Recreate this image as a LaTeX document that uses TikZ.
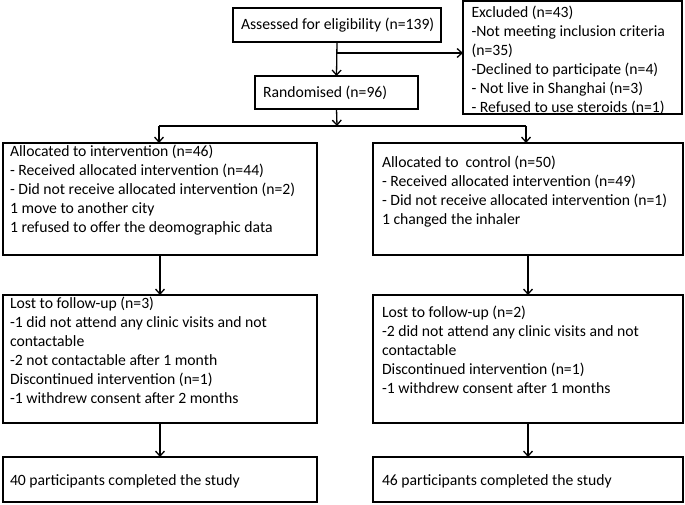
\documentclass[tikz,border=0pt]{standalone}
\usepackage{fontspec}
\setmainfont{Carlito}
\usetikzlibrary{arrows.meta}
\newcommand{\bxc}[5]{\parbox[c][#2pt][t]{#1pt}{\raggedright\rightskip=-40pt plus 1fil\leftskip=#4pt\relax\rule{0pt}{#3pt}#5}}
\tikzset{
  every node/.style={font=\fontsize{15.7}{19}\selectfont},
  box/.style={draw, line width=1.3pt, anchor=north west, inner sep=0pt, outer sep=0pt},
  ln/.style={line width=1.3pt},
  arr/.style={line width=1.3pt, -{Straight Barb[length=5pt,width=9pt]}}
}
\begin{document}
\begin{tikzpicture}[x=1pt,y=-1pt]
\useasboundingbox (0,0) rectangle (685,505);
\node[box] (assess) at (233,8) {\bxc{208}{34}{22}{8}{Assessed for eligibility (n=139)}};
\node[box] (excl) at (463,1) {\bxc{219}{113}{17}{8.5}{Excluded (n=43)\\-Not meeting inclusion criteria\\(n=35)\\-Declined to participate (n=4)\\- Not live in Shanghai (n=3)\\- Refused to use steroids (n=1)}};
\node[box] (rand) at (255,76) {\bxc{163}{33}{22}{8}{Randomised (n=96)}};
\node[box] (allocL) at (3,143) {\bxc{314}{112}{14}{7}{Allocated to intervention (n=46)\\- Received allocated intervention (n=44)\\- Did not receive allocated intervention (n=2)\\1 move to another city\\1 refused to offer the deomographic data}};
\node[box] (allocR) at (373,143) {\bxc{310}{112}{24}{9}{Allocated to\ \ control (n=50)\\- Received allocated intervention (n=49)\\- Did not receive allocated intervention (n=1)\\1 changed the inhaler}};
\node[box] (lostL) at (3,295) {\bxc{314}{128}{13}{7}{Lost to follow-up (n=3)\\-1 did not attend any clinic visits and not\\contactable\\-2 not contactable after 1 month\\Discontinued intervention (n=1)\\-1 withdrew consent after 2 months}};
\node[box] (lostR) at (373,295) {\bxc{310}{128}{22}{9}{Lost to follow-up (n=2)\\-2 did not attend any clinic visits and not\\contactable\\Discontinued intervention (n=1)\\-1 withdrew consent after 1 months}};
\node[box] (finL) at (3,457) {\bxc{314}{45}{28}{7}{40 participants completed the study}};
\node[box] (finR) at (373,457) {\bxc{310}{45}{28}{9}{46 participants completed the study}};
\coordinate (j1) at (337,53);
\coordinate (j2) at (337,126);
\coordinate (jl) at (159,126);
\coordinate (jr) at (526,126);
\draw[arr] (assess.south) -- (rand.north);
\draw[arr] (j1) -- (j1 -| excl.west);
\draw[arr] (rand.south) -- (j2);
\draw[ln] (jl) -- (jr);
\draw[arr] (jl) -- (jl |- allocL.north);
\draw[arr] (jr) -- (jr |- allocR.north);
\draw[arr] (allocL.south) -- (lostL.north);
\draw[arr] (allocR.south) -- (lostR.north);
\draw[arr] (lostL.south) -- (finL.north);
\draw[arr] (lostR.south) -- (finR.north);
\end{tikzpicture}
\end{document}
